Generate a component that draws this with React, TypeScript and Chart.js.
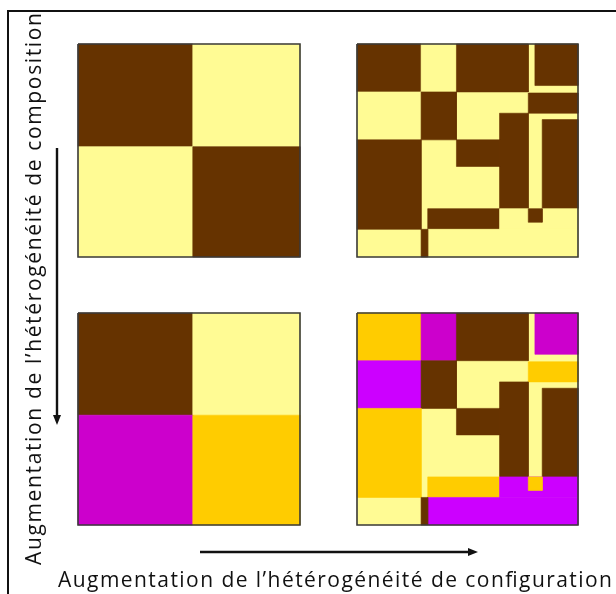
import React, { useEffect, useRef } from "react";
import { Chart, registerables } from "chart.js";

Chart.register(...registerables);

const BROWN = "#663300";
const YELLOW = "#FFFB94";
const ORANGE = "#FFCC00";
const MAGENTA = "#CC00CC";
const PURPLE = "#CC00FF";

// Simple (two-class / four-class) panels: 2x2 quadrants, in 0..100 panel units
const quadX0 = [0, 51.7, 0, 51.7];
const quadX1 = [51.7, 100, 51.7, 100];
const quadY0 = [0, 0, 48.2, 48.2];
const quadY1 = [48.2, 48.2, 100, 100];
const quadColorsTop = [BROWN, YELLOW, YELLOW, BROWN];
const quadColorsBottom = [BROWN, YELLOW, MAGENTA, ORANGE];

// Complex-configuration panels: patches drawn in order, in 0..100 panel units
const patchX0 = [0, 0, 29, 45, 80.5, 0, 29, 77.5, 64.5, 45, 83.8, 0, 32, 64.5, 32, 77.5, 29];
const patchX1 = [100, 29, 45, 77.5, 100, 29, 45, 100, 77.5, 64.5, 100, 29, 64.5, 100, 100, 83.8, 32];
const patchY0 = [0, 0, 0, 0, 0, 22.5, 22.5, 23, 32.5, 45, 35.5, 45, 77.3, 77.3, 87, 77.3, 87];
const patchY1 = [100, 22.5, 22.5, 22.5, 19.5, 45, 45, 32.5, 77.3, 57.5, 77.3, 87, 87, 87, 100, 83.7, 100];
const patchColorsTop = [YELLOW, BROWN, YELLOW, BROWN, BROWN, YELLOW, BROWN, BROWN, BROWN, BROWN, BROWN, BROWN, BROWN, YELLOW, YELLOW, BROWN, BROWN];
const patchColorsBottom = [YELLOW, ORANGE, MAGENTA, BROWN, MAGENTA, PURPLE, BROWN, ORANGE, BROWN, BROWN, BROWN, ORANGE, ORANGE, PURPLE, PURPLE, ORANGE, BROWN];

const yTitle = "Augmentation de l\u2019hétérogénéité de composition";
const xTitle = "Augmentation de l\u2019hétérogénéité de configuration";

type PanelProps = {
  left: number;
  top: number;
  w: number;
  h: number;
  x0: number[];
  x1: number[];
  y0: number[];
  y1: number[];
  colors: string[];
};

const PAD = 2;

function Panel({ left, top, w, h, x0, x1, y0, y1, colors }: PanelProps) {
  const ref = useRef<HTMLCanvasElement | null>(null);
  useEffect(() => {
    if (!ref.current) return;
    const rect = (a: number, b: number, c: number, d: number) => [
      { x: a, y: c },
      { x: b, y: c },
      { x: b, y: d },
      { x: a, y: d },
      { x: a, y: c },
    ];
    const n = colors.length;
    const datasets: any[] = colors.map((col, i) => ({
      data: rect(x0[i], x1[i], y0[i], y1[i]),
      order: n - i + 1,
      showLine: true,
      fill: "shape",
      backgroundColor: col,
      borderColor: col,
      borderWidth: 0.6,
      pointRadius: 0,
      tension: 0,
    }));
    datasets.push({
      data: rect(0, 100, 0, 100),
      order: 0,
      showLine: true,
      fill: false,
      borderColor: "#3a3a3a",
      borderWidth: 1.6,
      pointRadius: 0,
      tension: 0,
    });
    const chart = new Chart(ref.current, {
      type: "scatter",
      data: { datasets },
      options: {
        animation: false,
        responsive: false,
        events: [],
        layout: { padding: PAD },
        plugins: { legend: { display: false }, tooltip: { enabled: false } },
        scales: {
          x: { type: "linear", min: 0, max: 100, display: false },
          y: { type: "linear", min: 0, max: 100, reverse: true, display: false },
        },
        datasets: { scatter: { clip: false } as any },
      } as any,
    });
    return () => chart.destroy();
  }, []);
  return (
    <canvas
      ref={ref}
      width={w + 2 * PAD}
      height={h + 2 * PAD}
      style={{ position: "absolute", left: left - PAD, top: top - PAD, width: w + 2 * PAD, height: h + 2 * PAD }}
    />
  );
}

export default function App() {
  const font = "'Open Sans', 'Noto Sans', sans-serif";
  return (
    <div style={{ position: "absolute", left: 0, top: 0, width: 616, height: 594, overflow: "hidden", background: "#fff" }}>
      <Panel left={78} top={44} w={222} h={213} x0={quadX0} x1={quadX1} y0={quadY0} y1={quadY1} colors={quadColorsTop} />
      <Panel left={357} top={44} w={221} h={213} x0={patchX0} x1={patchX1} y0={patchY0} y1={patchY1} colors={patchColorsTop} />
      <Panel left={78} top={313} w={222} h={212} x0={quadX0} x1={quadX1} y0={quadY0} y1={quadY1} colors={quadColorsBottom} />
      <Panel left={357} top={313} w={221} h={212} x0={patchX0} x1={patchX1} y0={patchY0} y1={patchY1} colors={patchColorsBottom} />
      <svg width={616} height={594} style={{ position: "absolute", left: 0, top: 0 }}>
        <line x1={8} y1={11} x2={8} y2={600} stroke="#111" strokeWidth={2} />
        <line x1={7} y1={11} x2={620} y2={11} stroke="#111" strokeWidth={2} />
        <line x1={57} y1={148} x2={57} y2={417} stroke="#111" strokeWidth={2.4} />
        <polygon points="53,415 57,425 61,415" fill="#111" />
        <line x1={200} y1={552} x2={470} y2={552} stroke="#111" strokeWidth={2.4} />
        <polygon points="468,548 478,552 468,556" fill="#111" />
        <text
          x={41}
          y={565}
          transform="rotate(-90 41 565)"
          fontFamily={font}
          fontSize={21}
          fill="#111"
          textLength={552}
          lengthAdjust="spacing"
        >
          {yTitle}
        </text>
        <text x={58} y={587} fontFamily={font} fontSize={21} fill="#111" textLength={554} lengthAdjust="spacing">
          {xTitle}
        </text>
      </svg>
    </div>
  );
}
